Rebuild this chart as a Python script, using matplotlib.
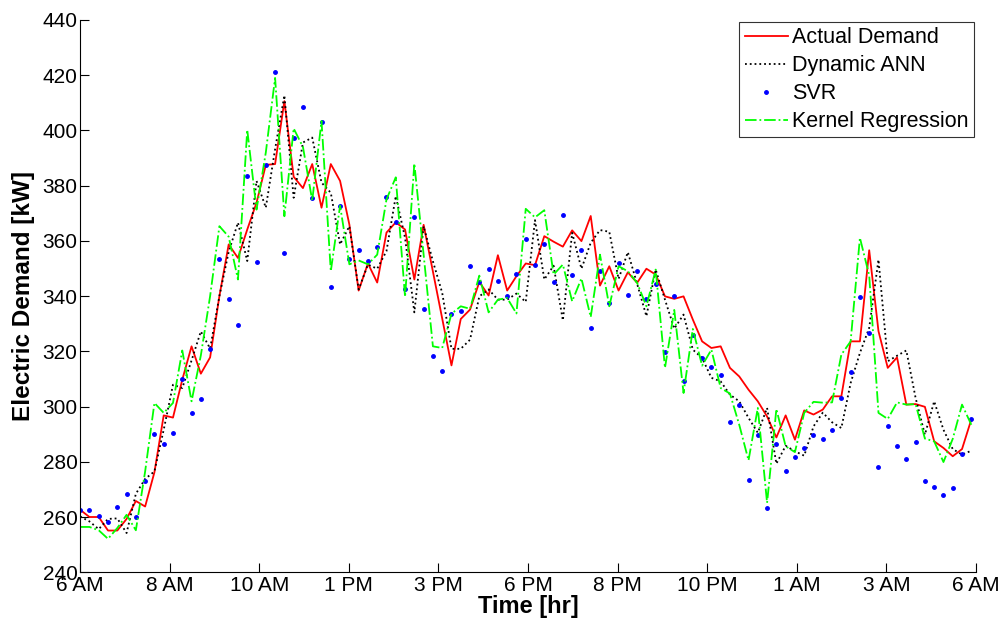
# electric demand: actual vs. forecasts over one day (15 min steps)
import numpy as np
import matplotlib.pyplot as plt

plt.rcParams['font.family'] = ['Liberation Sans', 'DejaVu Sans']

# values [kW]
actual = [262.6, 260.0, 260.0, 255.1, 255.1, 259.3, 265.8, 263.8, 276.2, 296.8,
          296.0, 309.7, 321.8, 311.9, 317.8, 340.0, 358.7, 353.8, 364.1, 373.8,
          387.5, 387.8, 410.6, 383.2, 379.1, 387.8, 372.0, 387.8, 381.7, 365.9,
          342.0, 351.8, 344.9, 363.0, 366.7, 364.1, 346.0, 365.8, 348.9, 331.9,
          314.9, 331.7, 335.1, 345.1, 340.2, 354.8, 342.0, 347.2, 351.8, 351.2,
          361.7, 359.7, 357.9, 363.8, 359.9, 369.0, 343.8, 350.8, 342.0, 348.6,
          344.8, 349.9, 347.8, 339.9, 339.0, 339.9, 331.5, 323.6, 321.2, 321.8,
          314.0, 310.9, 306.1, 301.9, 296.4, 288.8, 296.8, 288.0, 298.6, 297.1,
          298.9, 303.7, 303.7, 323.6, 323.6, 356.6, 327.3, 314.0, 317.8, 300.7,
          300.9, 299.9, 287.4, 285.0, 282.0, 284.6, 295.3]

dynamic_ann = [260.2, 258.4, 255.6, 259.3, 259.5, 254.2, 268.4, 273.8, 276.5, 291.6,
               307.9, 306.7, 316.7, 327.2, 321.0, 340.0, 356.0, 366.6, 352.7, 381.7,
               372.0, 393.2, 412.7, 375.6, 395.6, 397.4, 381.1, 377.4, 358.7, 365.3,
               342.4, 351.4, 349.9, 356.3, 376.2, 361.1, 334.1, 365.3, 352.6, 341.2,
               320.9, 320.9, 324.2, 339.9, 342.4, 338.7, 338.7, 340.9, 337.9, 367.5,
               346.0, 351.0, 331.2, 362.9, 349.9, 359.3, 363.9, 363.3, 346.2, 355.9,
               344.4, 332.7, 349.6, 338.7, 328.2, 333.3, 320.6, 317.6, 310.4, 309.1,
               304.3, 301.9, 295.9, 290.5, 299.5, 279.3, 285.8, 283.8, 282.2, 292.8,
               297.8, 294.3, 292.2, 308.5, 319.4, 328.5, 353.2, 316.4, 318.4, 320.3,
               303.1, 289.8, 301.9, 291.6, 284.6, 282.6, 284.0]

svr = [262.6, 262.5, 260.5, 258.2, 263.5, 268.3, 260.0, 273.2, 290.0, 286.4,
       290.4, 310.0, 297.7, 302.9, 321.0, 353.5, 339.0, 329.6, 383.4, 352.4,
       387.5, 421.2, 355.7, 397.1, 408.4, 375.4, 403.1, 343.2, 372.5, 353.6,
       356.7, 352.6, 357.8, 375.8, 366.7, 342.7, 368.8, 335.2, 318.3, 312.9,
       333.6, 334.5, 350.9, 345.0, 349.7, 345.6, 339.9, 348.0, 360.8, 351.3,
       358.9, 345.0, 369.3, 347.5, 356.7, 328.5, 348.9, 337.6, 351.9, 340.3,
       348.9, 339.1, 344.4, 319.6, 340.2, 309.1, 325.8, 317.6, 314.2, 311.6,
       294.4, 300.7, 273.5, 289.8, 263.4, 286.3, 276.7, 281.7, 285.0, 289.8,
       288.3, 291.4, 303.2, 312.4, 339.7, 326.5, 278.1, 293.1, 285.7, 281.0,
       287.3, 273.2, 270.7, 268.1, 270.4, 282.7, 295.5]

kernel = [256.4, 256.4, 255.2, 252.1, 256.0, 260.8, 255.2, 276.5, 301.3, 297.7,
          301.3, 320.3, 301.9, 318.5, 340.0, 365.3, 361.5, 346.0, 400.2, 371.3,
          392.0, 419.0, 368.9, 400.7, 394.0, 374.6, 403.4, 349.0, 372.7, 351.5,
          352.9, 351.5, 355.0, 375.0, 383.0, 339.7, 388.0, 355.0, 321.8, 321.2,
          333.6, 336.3, 335.4, 347.4, 334.1, 338.7, 339.3, 333.7, 371.6, 368.5,
          371.1, 347.8, 351.4, 338.1, 346.4, 332.4, 355.0, 336.3, 350.8, 349.0,
          344.8, 336.3, 349.6, 314.0, 335.0, 304.9, 328.1, 314.8, 320.6, 306.7,
          304.7, 293.4, 280.5, 299.5, 265.1, 299.1, 285.6, 283.5, 297.7, 301.7,
          301.4, 301.5, 318.8, 323.6, 361.1, 347.5, 297.7, 295.5, 301.5, 300.7,
          300.9, 288.4, 287.4, 279.9, 288.3, 300.7, 293.4]

time_labels = ['6 AM', '8 AM', '10 AM', '1 PM', '3 PM', '6 PM',
               '8 PM', '10 PM', '1 AM', '3 AM', '6 AM']

x = np.arange(len(actual))
x_end = 96.5

fig = plt.figure(figsize=(10.02, 6.22), dpi=100)
ax = fig.add_axes([0.080, 0.080, 0.894, 0.888])

ax.plot(x, actual, color='red', lw=1.3, label='Actual Demand')
ax.plot(x, dynamic_ann, color='black', ls=':', lw=1.3, label='Dynamic ANN')
ax.plot(x, svr, ls='none', marker='.', ms=5, color='blue', label='SVR')
ax.plot(x, kernel, color='#00ff00', ls='-.', lw=1.3, label='Kernel Regression')

ax.set_xlim(0, x_end)
ax.set_ylim(240, 440)
ax.set_xticks(np.linspace(0, x_end, len(time_labels)))
ax.set_xticklabels(time_labels)
ax.set_yticks(np.arange(240, 441, 20))
ax.tick_params(direction='in', length=6.5, width=0.8, labelsize=15, pad=2)
ax.tick_params(axis='x', pad=3)

ax.spines['top'].set_visible(False)
ax.spines['right'].set_visible(False)

ax.set_xlabel('Time [hr]', fontsize=17, fontweight='bold', labelpad=0)
ax.set_ylabel('Electric Demand [kW]', fontsize=17.5, fontweight='bold', labelpad=5)

leg = ax.legend(loc='upper right', fontsize=15.5, frameon=True, fancybox=False,
                borderpad=0.25, labelspacing=0.32, handlelength=2.0,
                handletextpad=0.2, borderaxespad=0.1)
leg.get_frame().set_edgecolor('black')
leg.get_frame().set_linewidth(0.8)

fig.savefig('out.png', dpi=100)
